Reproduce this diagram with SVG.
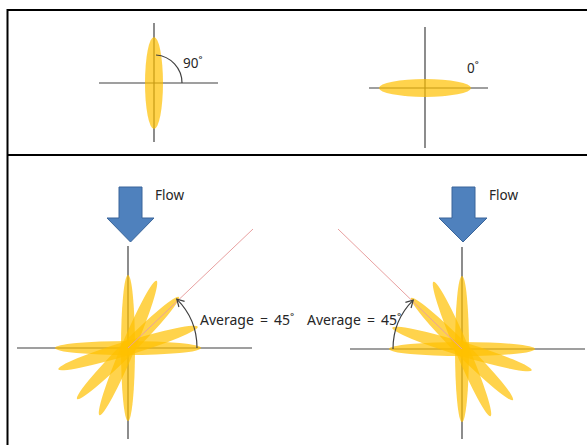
<svg xmlns="http://www.w3.org/2000/svg" width="587" height="445" viewBox="0 0 587 445">
<style>
.frame{stroke:#000;stroke-width:2;fill:none}
.axis{stroke:#404040;stroke-width:1.2;fill:none}
.arc{stroke:#404040;stroke-width:1.2;fill:none}
.petal{fill:#FFC000;opacity:0.7}
.ray{stroke:#E8A0A0;stroke-width:1;fill:none}
.flow{fill:#4F81BD;stroke:#3A659A;stroke-width:1}
text{font-family:"Noto Sans","Liberation Sans",sans-serif;font-size:13.5px;fill:#262626}
.avg{font-size:14px;word-spacing:2.5px}
</style>
<defs>
<marker id="open" markerWidth="10" markerHeight="10" refX="8" refY="5" orient="auto" markerUnits="userSpaceOnUse">
<path d="M1,1 L8,5 L1,9" fill="none" stroke="#404040" stroke-width="1.2"/>
</marker>
</defs>
<g id="frame">
<line class="frame" x1="7" y1="10" x2="587" y2="10"/>
<line class="frame" x1="7.5" y1="9" x2="7.5" y2="445"/>
<line class="frame" x1="7" y1="155" x2="587" y2="155"/>
</g>
<g id="panel-90">
<line class="axis" x1="154" y1="23" x2="154" y2="142"/>
<line class="axis" x1="99" y1="83" x2="218" y2="83"/>
<ellipse class="petal" cx="154" cy="83" rx="9" ry="46"/>
<path class="arc" d="M182,83 A28,28 0 0 0 156,55"/>
<text x="183" y="68">90˚</text>
</g>
<g id="panel-0">
<line class="axis" x1="425" y1="27" x2="425" y2="148"/>
<line class="axis" x1="369" y1="88" x2="488" y2="88"/>
<ellipse class="petal" cx="425" cy="88" rx="46" ry="9"/>
<text x="467" y="73">0˚</text>
</g>
<g id="flow-left">
<polygon class="flow" points="119,187 142,187 142,218 154,218 130.5,242 107,218 119,218"/>
<text x="155" y="200">Flow</text>
</g>
<g id="rose-left">
<line class="axis" x1="128" y1="246" x2="128" y2="439"/>
<line class="axis" x1="17" y1="348" x2="252" y2="348"/>
<g transform="translate(128,348)">
<ellipse class="petal" rx="73" ry="7"/>
<ellipse class="petal" rx="73" ry="7" transform="rotate(-17)"/>
<ellipse class="petal" rx="72" ry="7" transform="rotate(-45)"/>
<ellipse class="petal" rx="73" ry="7" transform="rotate(-67)"/>
<ellipse class="petal" rx="73" ry="7" transform="rotate(-90)"/>
</g>
<line class="ray" x1="128" y1="348" x2="253" y2="229"/>
<text class="avg" x="200" y="325">Average = 45˚</text>
</g>
<g id="flow-right">
<polygon class="flow" points="452,187 475,187 475,218 487,218 463,242 439,218 452,218"/>
<text x="489" y="200">Flow</text>
</g>
<g id="rose-right">
<line class="axis" x1="462" y1="247" x2="462" y2="439"/>
<line class="axis" x1="350" y1="349" x2="585" y2="349"/>
<g transform="translate(462,349)">
<ellipse class="petal" rx="73" ry="7"/>
<ellipse class="petal" rx="73" ry="7" transform="rotate(17)"/>
<ellipse class="petal" rx="72" ry="7" transform="rotate(45)"/>
<ellipse class="petal" rx="73" ry="7" transform="rotate(67)"/>
<ellipse class="petal" rx="73" ry="7" transform="rotate(90)"/>
</g>
<line class="ray" x1="462" y1="349" x2="338" y2="229"/>
<text class="avg" x="307" y="325">Average = 45˚</text>
</g>
<g id="connectors">
<path class="arc" d="M197,348 A69,69 0 0 0 176.8,299.2" marker-end="url(#open)"/>
<path class="arc" d="M393,349 A69,69 0 0 1 413.2,300.2" marker-end="url(#open)"/>
</g>
</svg>
